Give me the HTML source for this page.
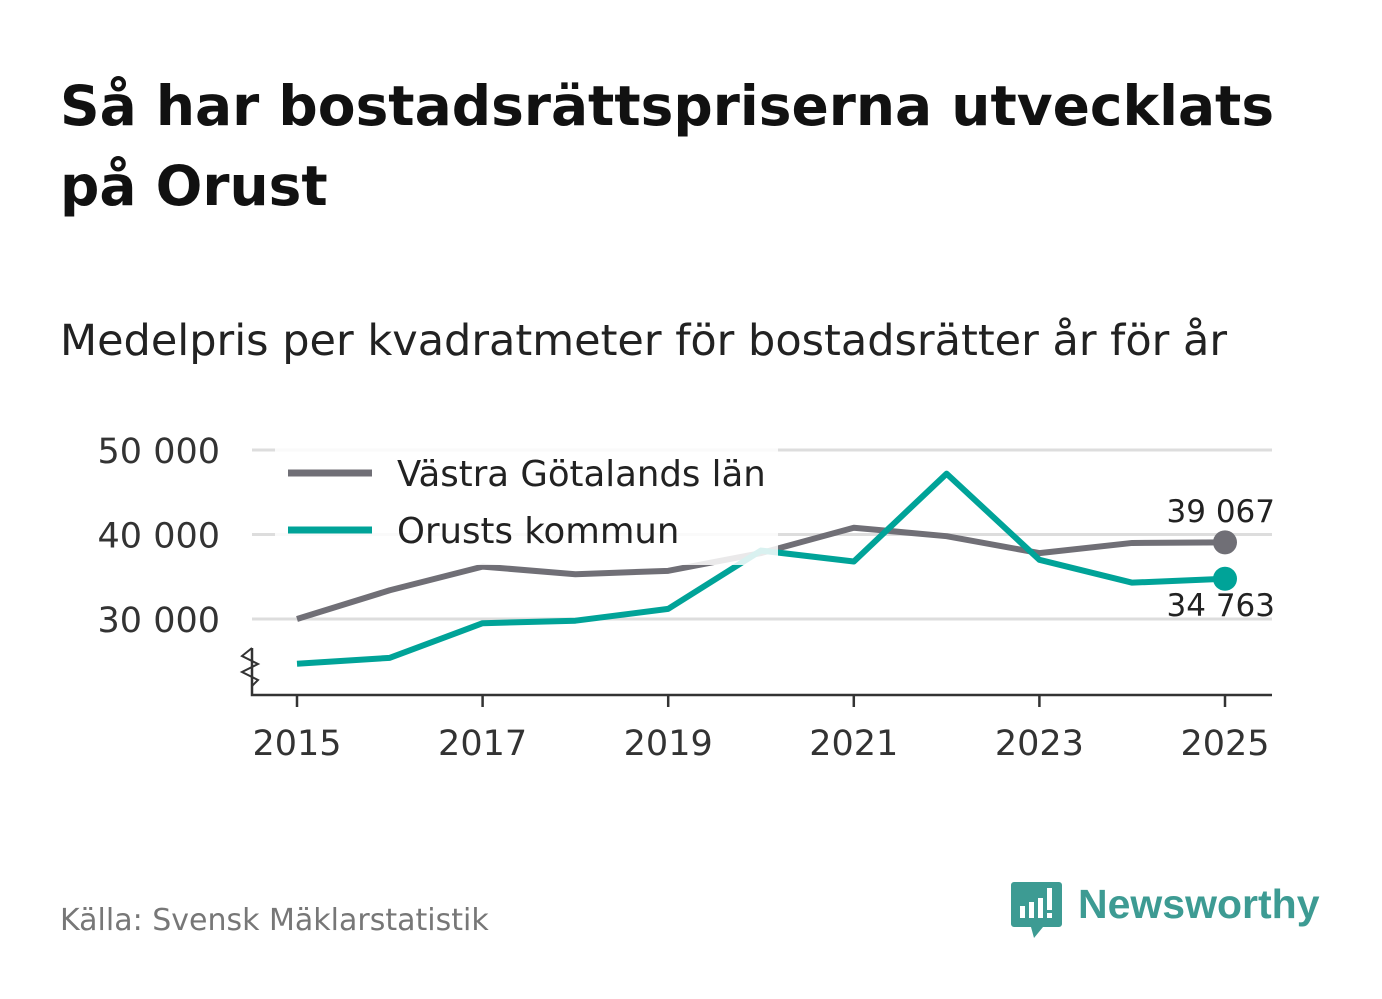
<!DOCTYPE html>
<html><head><meta charset="utf-8"><style>
body{margin:0;width:1382px;height:999px;background:#fff;font-family:"DejaVu Sans","Liberation Sans",sans-serif;overflow:hidden}
svg{position:absolute;left:0;top:0}
</style></head><body>
<svg width="1382" height="999">
<text x="60" y="125" font-size="55" font-weight="bold" fill="#111">Så har bostadsrättspriserna utvecklats</text>
<text x="60" y="205" font-size="55" font-weight="bold" fill="#111">på Orust</text>
<text x="60" y="355" font-size="43" fill="#222">Medelpris per kvadratmeter för bostadsrätter år för år</text>
<g id="plot"></g>
<text x="60" y="930" font-size="30" fill="#777">Källa: Svensk Mäklarstatistik</text>
<g>
<path d="M1014 882 h45 a3 3 0 0 1 3 3 v39 a3 3 0 0 1 -3 3 h-16 l-9 11 l-3 -11 h-17 a3 3 0 0 1 -3 -3 v-39 a3 3 0 0 1 3 -3z" fill="#3d9b93"/>
<rect x="1020" y="906" width="5" height="12" fill="#fff"/><rect x="1029" y="902" width="5" height="16" fill="#fff"/><rect x="1038" y="898" width="5" height="20" fill="#fff"/><rect x="1047" y="888" width="5" height="22" fill="#fff"/><rect x="1047" y="913" width="5" height="5" fill="#fff"/>
<text x="1078" y="918" font-size="41" font-weight="bold" fill="#3d9b93" font-family="Liberation Sans, sans-serif">Newsworthy</text>
</g>
</svg>
<script>
const years=[2015,2016,2017,2018,2019,2020,2021,2022,2023,2024,2025];
const vgl=[30000,33400,36200,35300,35700,37800,40800,39800,37800,39000,39067];
const orust=[24700,25400,29500,29800,31200,38100,36800,47200,37000,34300,34763];
const yTicks=[30000,40000,50000];
const xTicks=[2015,2017,2019,2021,2023,2025];
const NS="http://www.w3.org/2000/svg";
const g=document.getElementById('plot');
const X=y=>297+(y-2015)*92.8;
const Y=v=>619-(v-30000)*0.00845;
function mk(t,a,p){const e=document.createElementNS(NS,t);for(const k in a)e.setAttribute(k,a[k]);(p||g).appendChild(e);return e;}
const fmt=v=>String(Math.round(v)).replace(/\B(?=(\d{3})+(?!\d))/g,' ');
yTicks.forEach(v=>{
 const l=mk('line',{x1:252,x2:1272,y1:Y(v),y2:Y(v),stroke:'#ddd','stroke-width':3});
 
 
 const t=mk('text',{x:220,y:Y(v)+13,'font-size':35,fill:'#333','text-anchor':'end'});t.textContent=fmt(v);
 
 
});
const ax=mk('path',{d:'M252 648 V695 H1272',fill:'none',stroke:'#333','stroke-width':2.5});


mk('path',{d:'M252 648 l-10 8 l16 8 l-16 8 l16 8 l-6 6',fill:'none',stroke:'#333','stroke-width':2});
xTicks.forEach(y=>{
 mk('line',{x1:X(y),x2:X(y),y1:695,y2:707,stroke:'#333','stroke-width':2.5});
 const t=mk('text',{x:X(y),y:755,'font-size':35,fill:'#333','text-anchor':'middle'});t.textContent=y;
 
 
});
function line(data,col,name){
 const p=mk('polyline',{points:data.map((v,i)=>X(years[i])+','+Y(v)).join(' '),fill:'none',stroke:col,'stroke-width':6,'stroke-linejoin':'round'});
 
 
 const c=mk('circle',{cx:X(years[years.length-1]),cy:Y(data[data.length-1]),r:12,fill:col});
 
 
}
line(vgl,'#706f76','line-vastra-gotaland');
line(orust,'#00a398','line-orust');
const l1=mk('text',{x:1275,y:522,'font-size':31,fill:'#222','text-anchor':'end'});l1.textContent=fmt(vgl[10]);


const l2=mk('text',{x:1275,y:616,'font-size':31,fill:'#222','text-anchor':'end'});l2.textContent=fmt(orust[10]);


const lg=mk('g',{});


mk('rect',{x:275,y:437,width:503,height:128,fill:'#fff','fill-opacity':0.85},lg);
mk('line',{x1:288,x2:372,y1:473,y2:473,stroke:'#706f76','stroke-width':7},lg);
mk('line',{x1:288,x2:372,y1:530,y2:530,stroke:'#00a398','stroke-width':7},lg);
const a=mk('text',{x:397,y:486,'font-size':35.5,fill:'#222'},lg);a.textContent='Västra Götalands län';


const b=mk('text',{x:397,y:543,'font-size':35.5,fill:'#222'},lg);b.textContent='Orusts kommun';


</script>
</body></html>
